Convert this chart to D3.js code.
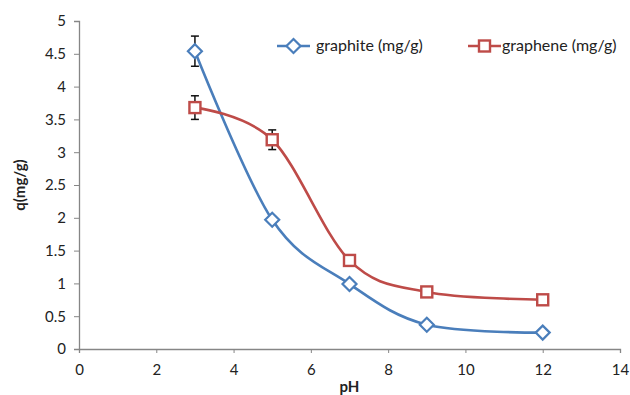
<!DOCTYPE html>
<html>
<head>
<meta charset="utf-8">
<script src="https://cdn.jsdelivr.net/npm/d3@7"></script>
<style>
  html, body { margin: 0; padding: 0; background: #fff; }
  svg text { font-family: Lato, "Open Sans", sans-serif; fill: #222; }
</style>
</head>
<body>
<svg id="chart" width="630" height="395"></svg>
<script>
// pH values tested
const phValues = [3, 5, 7, 9, 12];
// adsorption capacity q (mg/g)
const graphiteQ = [4.54, 1.97, 0.99, 0.37, 0.25];
const grapheneQ = [3.68, 3.19, 1.35, 0.87, 0.75];
// error bars (± half-range), null where none is shown
const graphiteErr = [0.23, null, null, null, null];
const grapheneErr = [0.18, 0.15, null, null, null];
const xTicks = [0, 2, 4, 6, 8, 10, 12, 14];
const yTicks = [0, 0.5, 1, 1.5, 2, 2.5, 3, 3.5, 4, 4.5, 5];
const seriesNames = ["graphite (mg/g)", "graphene (mg/g)"];

const svg = d3.select("#chart");
const margin = { left: 79, right: 10, top: 21, bottom: 46 };
const W = 630, H = 395;

const x = d3.scaleLinear().domain([0, 14]).range([margin.left, W - margin.right]);
const y = d3.scaleLinear().domain([0, 5]).range([H - margin.bottom, margin.top]);

const axisColor = "#868686";

// x axis
const gx = svg.append("g")
  .attr("transform", `translate(0,${y(0)})`)
  .call(d3.axisBottom(x).tickValues(xTicks).tickSize(4).tickPadding(11).tickFormat(d3.format("d")));
// y axis
const gy = svg.append("g")
  .attr("transform", `translate(${x(0)},0)`)
  .call(d3.axisLeft(y).tickValues(yTicks).tickSize(5).tickPadding(8).tickFormat(d => String(d)));

[gx, gy].forEach(g => {
  g.select(".domain").attr("stroke", axisColor).attr("stroke-width", 1.3);
  g.selectAll(".tick line").attr("stroke", axisColor).attr("stroke-width", 1);
  g.selectAll(".tick text").attr("font-size", 15).attr("fill", "#222")
    .attr("font-family", "Lato, 'Open Sans', sans-serif");
});

// axis titles
svg.append("text")
  .attr("x", x(7)).attr("y", 392)
  .attr("text-anchor", "middle")
  .attr("font-size", 15).attr("font-weight", "bold")
  .text("pH");
svg.append("text")
  .attr("transform", `translate(25,${y(2.5)}) rotate(-90)`)
  .attr("text-anchor", "middle")
  .attr("font-size", 15).attr("font-weight", "bold")
  .text("q(mg/g)");

const series = [
  { name: seriesNames[0], vals: graphiteQ, err: graphiteErr, color: "#4A7EBB", shape: "diamond" },
  { name: seriesNames[1], vals: grapheneQ, err: grapheneErr, color: "#BE4B48", shape: "square" }
];

const line = d3.line()
  .x(d => x(d[0])).y(d => y(d[1]))
  .curve(d3.curveCatmullRom.alpha(0));

function marker(g, shape, cx, cy, color) {
  if (shape === "diamond") {
    const r = 7;
    g.append("path")
      .attr("d", `M${cx},${cy - r}L${cx + r},${cy}L${cx},${cy + r}L${cx - r},${cy}Z`)
      .attr("fill", "#fff").attr("stroke", color).attr("stroke-width", 2.2);
  } else {
    const s = 11;
    g.append("rect")
      .attr("x", cx - s / 2).attr("y", cy - s / 2).attr("width", s).attr("height", s)
      .attr("fill", "#fff").attr("stroke", color).attr("stroke-width", 2.4);
  }
}

series.forEach(s => {
  const pts = phValues.map((p, i) => [p, s.vals[i]]);
  svg.append("path")
    .attr("d", line(pts))
    .attr("fill", "none").attr("stroke", s.color).attr("stroke-width", 2.6);
});

// error bars
series.forEach(s => {
  const g = svg.append("g").attr("stroke", "#111").attr("stroke-width", 1.5);
  phValues.forEach((p, i) => {
    const e = s.err[i];
    if (e == null) return;
    const cx = x(p);
    const y1 = y(s.vals[i] - e), y2 = y(s.vals[i] + e);
    g.append("line").attr("x1", cx).attr("x2", cx).attr("y1", y1).attr("y2", y2);
    g.append("line").attr("x1", cx - 4).attr("x2", cx + 4).attr("y1", y1).attr("y2", y1);
    g.append("line").attr("x1", cx - 4).attr("x2", cx + 4).attr("y1", y2).attr("y2", y2);
  });
});

// markers
series.forEach(s => {
  const g = svg.append("g");
  phValues.forEach((p, i) => marker(g, s.shape, x(p), y(s.vals[i]), s.color));
});

// legend
const legend = [
  { s: series[0], x0: 277, tx: 316 },
  { s: series[1], x0: 468, tx: 502 }
];
legend.forEach(l => {
  const ly = 46;
  const g = svg.append("g");
  g.append("line").attr("x1", l.x0).attr("x2", l.x0 + 33).attr("y1", ly).attr("y2", ly)
    .attr("stroke", l.s.color).attr("stroke-width", 2.6);
  marker(g, l.s.shape, l.x0 + 16.5, ly, l.s.color);
  g.append("text").attr("x", l.tx).attr("y", ly + 5)
    .attr("font-size", 16).text(l.s.name);
});
</script>
</body>
</html>
